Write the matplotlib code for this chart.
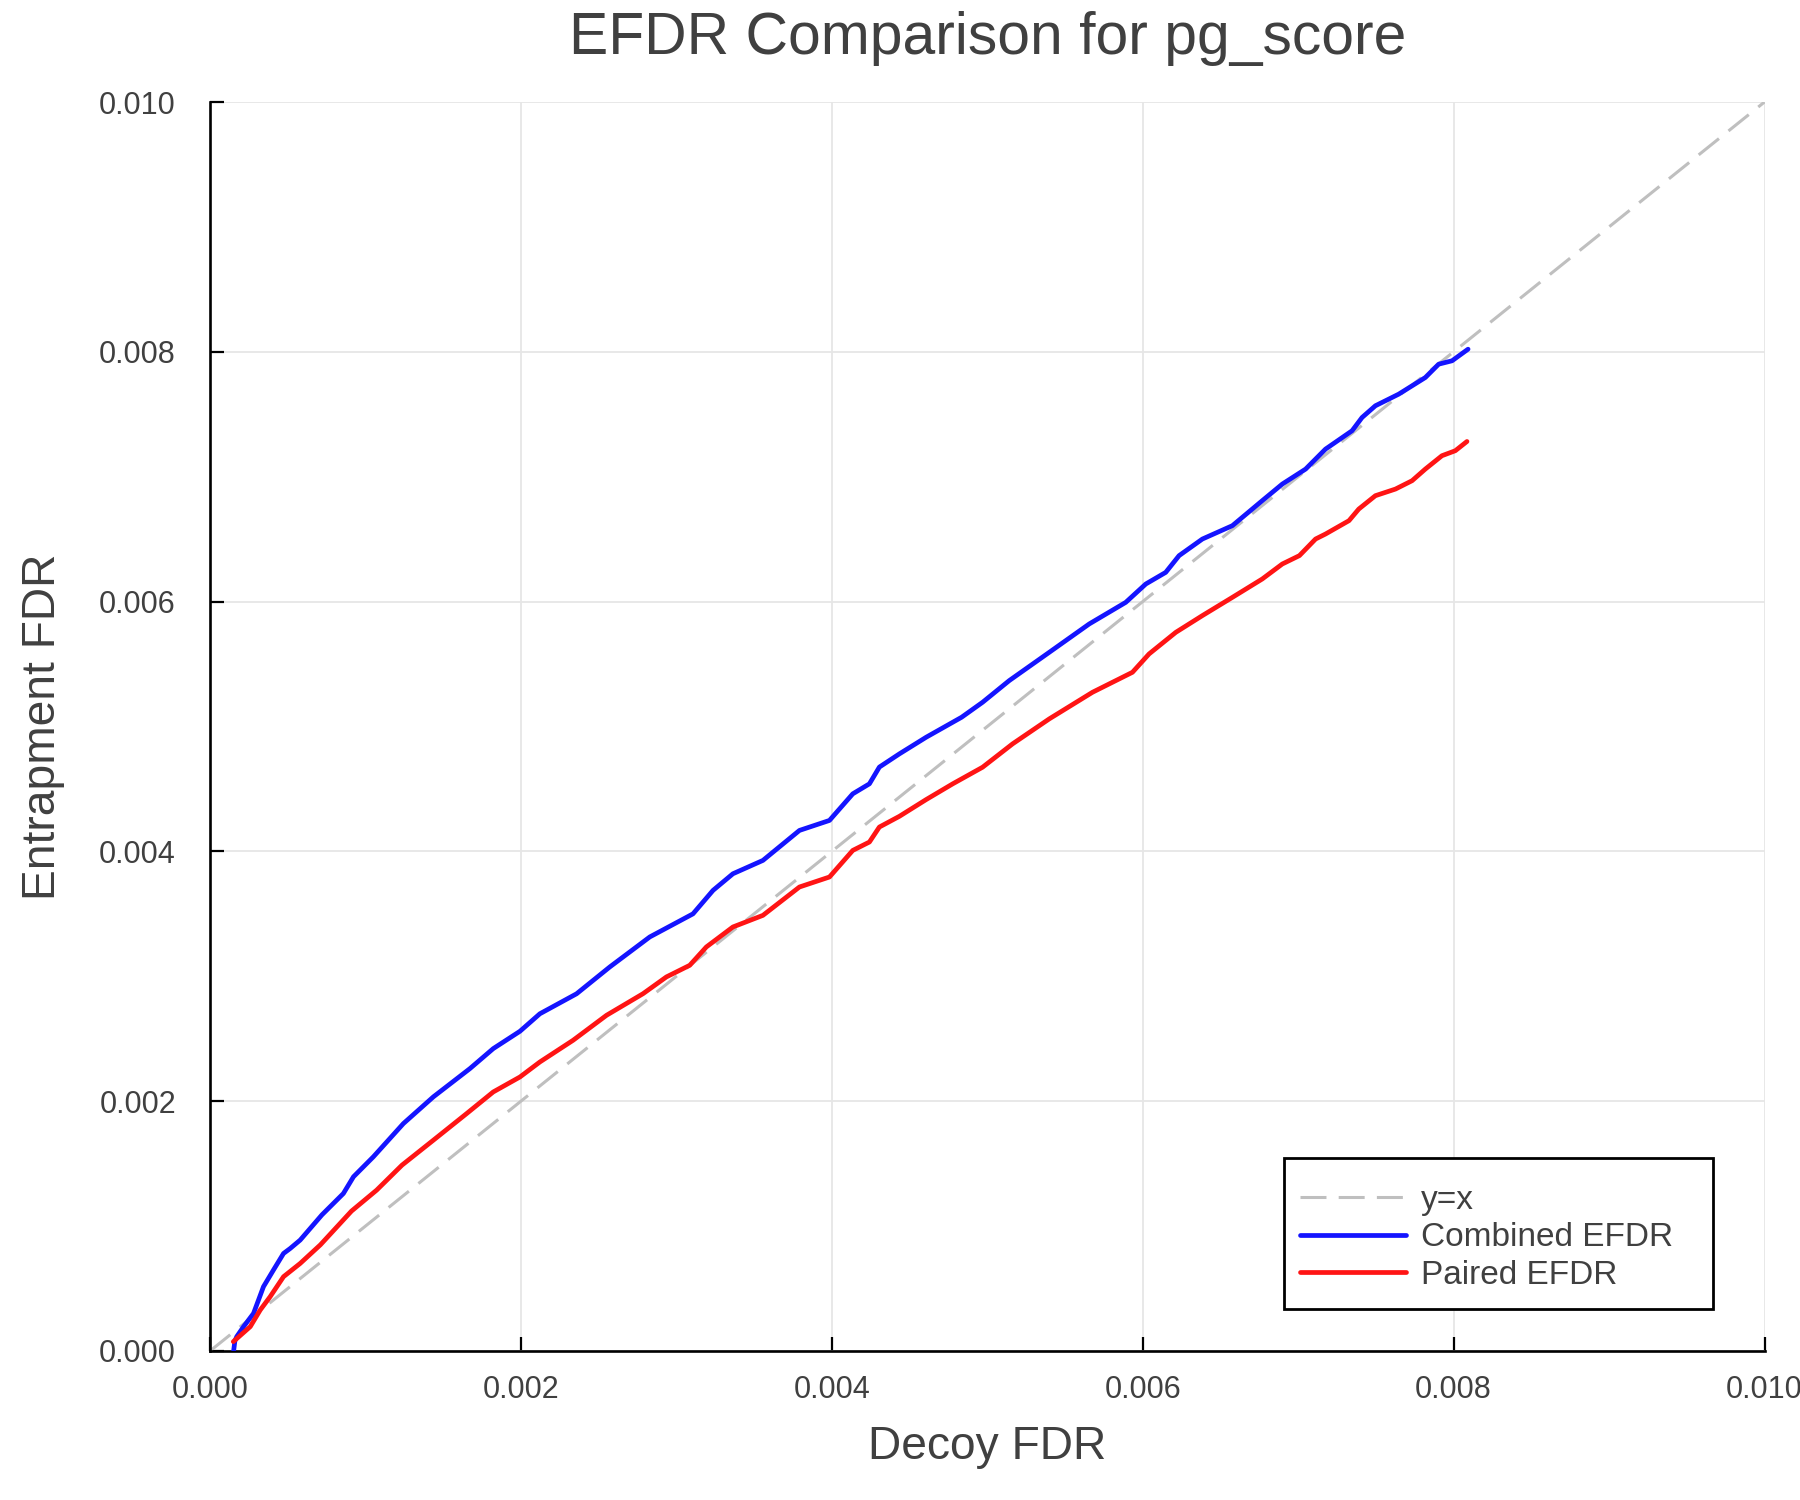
import matplotlib
matplotlib.use("Agg")
import matplotlib.pyplot as plt
from matplotlib.ticker import FormatStrFormatter, MultipleLocator
from matplotlib.patches import Rectangle

plt.rcParams['font.family'] = ['Liberation Sans', 'DejaVu Sans']

title = "EFDR Comparison for pg_score"
xlabel = "Decoy FDR"
ylabel = "Entrapment FDR"
labels = ["y=x", "Combined EFDR", "Paired EFDR"]

diag_x = [0.0, 0.010]
diag_y = [0.0, 0.010]

combined_x = [0.000152, 0.000160, 0.000172, 0.000216, 0.000280, 0.000344, 0.000408,
              0.000473, 0.000516, 0.000580, 0.000720, 0.000858, 0.000923, 0.001051,
              0.001244, 0.001437, 0.001672, 0.001822, 0.001994, 0.002122, 0.002358,
              0.002572, 0.002829, 0.003107, 0.003236, 0.003364, 0.003557, 0.003792,
              0.003985, 0.004135, 0.004242, 0.004306, 0.004435, 0.004607, 0.004835,
              0.004970, 0.005142, 0.005399, 0.005656, 0.005891, 0.006020, 0.006148,
              0.006234, 0.006384, 0.006577, 0.006769, 0.006898, 0.007048, 0.007176,
              0.007347, 0.007411, 0.007497, 0.007647, 0.007818, 0.007904, 0.007990,
              0.008093]
combined_y = [0.000000, 0.000080, 0.000115, 0.000195, 0.000301, 0.000515, 0.000648,
              0.000781, 0.000821, 0.000888, 0.001090, 0.001261, 0.001395, 0.001555,
              0.001821, 0.002035, 0.002261, 0.002421, 0.002560, 0.002700, 0.002860,
              0.003075, 0.003315, 0.003500, 0.003688, 0.003821, 0.003928, 0.004168,
              0.004248, 0.004461, 0.004541, 0.004675, 0.004781, 0.004914, 0.005074,
              0.005194, 0.005368, 0.005594, 0.005821, 0.005994, 0.006141, 0.006234,
              0.006368, 0.006501, 0.006608, 0.006808, 0.006941, 0.007061, 0.007221,
              0.007368, 0.007474, 0.007568, 0.007661, 0.007794, 0.007901, 0.007928,
              0.008021]

paired_x = [0.000150, 0.000259, 0.000323, 0.000387, 0.000473, 0.000580, 0.000710,
            0.000910, 0.001072, 0.001235, 0.001437, 0.001651, 0.001822, 0.001994,
            0.002122, 0.002336, 0.002551, 0.002786, 0.002936, 0.003086, 0.003193,
            0.003364, 0.003557, 0.003792, 0.003985, 0.004135, 0.004242, 0.004306,
            0.004435, 0.004607, 0.004778, 0.004970, 0.005163, 0.005399, 0.005677,
            0.005934, 0.006041, 0.006213, 0.006384, 0.006577, 0.006769, 0.006898,
            0.007008, 0.007112, 0.007176, 0.007327, 0.007390, 0.007497, 0.007626,
            0.007733, 0.007818, 0.007925, 0.008011, 0.008086]
paired_y = [0.000075, 0.000195, 0.000328, 0.000435, 0.000595, 0.000701, 0.000850,
            0.001120, 0.001288, 0.001488, 0.001688, 0.001901, 0.002074, 0.002194,
            0.002314, 0.002488, 0.002688, 0.002861, 0.002995, 0.003088, 0.003235,
            0.003395, 0.003488, 0.003715, 0.003795, 0.004008, 0.004075, 0.004195,
            0.004281, 0.004415, 0.004541, 0.004674, 0.004861, 0.005061, 0.005274,
            0.005434, 0.005581, 0.005754, 0.005888, 0.006034, 0.006181, 0.006301,
            0.006368, 0.006501, 0.006541, 0.006648, 0.006741, 0.006848, 0.006901,
            0.006968, 0.007061, 0.007168, 0.007208, 0.007282]

W, H = 1800, 1500
fig = plt.figure(figsize=(18, 15), dpi=100)
ax = fig.add_axes([210 / W, 1 - 1351 / H, 1554.5 / W, 1249 / H])

text_color = '#404040'

ax.plot(diag_x, diag_y, color='#bfbfbf', lw=2.2, dashes=(8.5, 4), label=labels[0], zorder=2)
ax.plot(combined_x, combined_y, color='#1414ff', lw=3.4, label=labels[1], zorder=3,
        solid_capstyle='round', solid_joinstyle='round')
ax.plot(paired_x, paired_y, color='#ff1414', lw=3.4, label=labels[2], zorder=4,
        solid_capstyle='round', solid_joinstyle='round')

ax.set_xlim(0, 0.010)
ax.set_ylim(0, 0.010)
ax.xaxis.set_major_locator(MultipleLocator(0.002))
ax.yaxis.set_major_locator(MultipleLocator(0.002))
ax.xaxis.set_major_formatter(FormatStrFormatter('%.3f'))
ax.yaxis.set_major_formatter(FormatStrFormatter('%.3f'))

ax.grid(True, color='#e6e6e6', lw=1.3, zorder=0)
ax.set_axisbelow(True)

for s in ['top', 'right']:
    ax.spines[s].set_visible(False)
for s in ['left', 'bottom']:
    ax.spines[s].set_linewidth(1.9)
    ax.spines[s].set_color('black')

ax.tick_params(axis='both', direction='in', length=10, width=1.6, color='black',
               labelsize=22, labelcolor=text_color)
ax.tick_params(axis='x', pad=17)
ax.tick_params(axis='y', pad=24.5)

fig.text((210 + 1764.5) / 2 / W, 1 - 38 / H, title, ha='center', va='center',
         fontsize=42.3, color=text_color)
fig.text((210 + 1764.5) / 2 / W, 1 - 1447 / H, xlabel, ha='center', va='center',
         fontsize=33.2, color=text_color)
fig.text(43 / W, 1 - 726.5 / H, ylabel, ha='center', va='center', rotation=90,
         fontsize=33.2, color=text_color)

# legend frame (fixed box as in reference)
frame = Rectangle((0.6906, 0.0339), 0.2761, 0.1206, transform=ax.transAxes,
                  facecolor='white', edgecolor='black', lw=2.0, zorder=5)
ax.add_patch(frame)

leg = ax.legend(loc='upper left', bbox_to_anchor=(0.7012, 0.1331), fontsize=24,
                frameon=False, handlelength=3.17, handletextpad=0.45,
                labelspacing=0.2, borderpad=0.0, borderaxespad=0.0)
leg.set_zorder(6)
for t in leg.get_texts():
    t.set_color(text_color)

fig.savefig('out.png', dpi=100)
